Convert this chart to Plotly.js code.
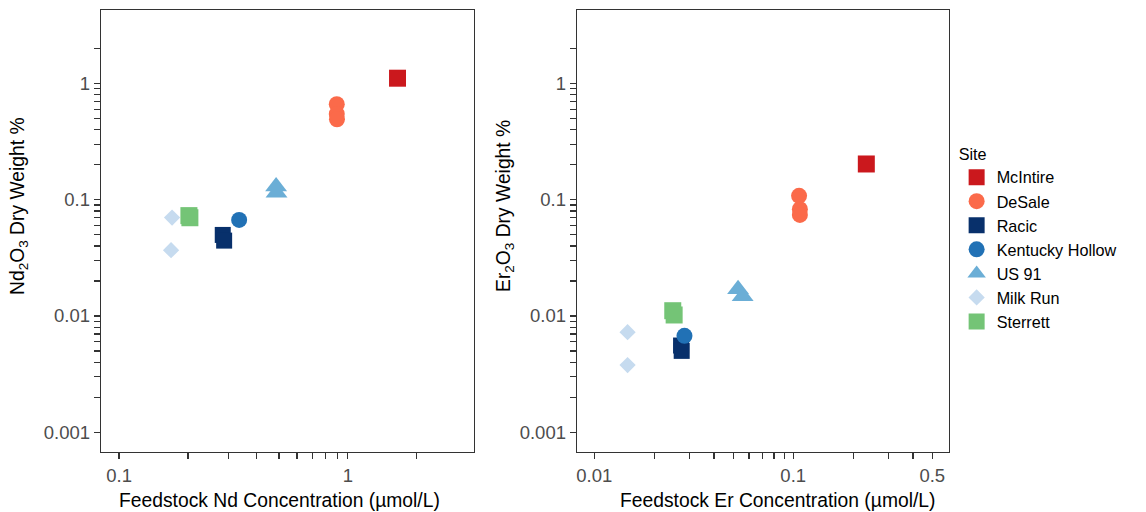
<!DOCTYPE html>
<html>
<head>
<meta charset="utf-8">
<script src="https://cdn.plot.ly/plotly-3.0.1.min.js"></script>
<style>html,body{margin:0;padding:0;background:#fff;}#chart{width:1146px;height:512px;}</style>
</head>
<body>
<div id="chart"></div>
<script>
// Sites (legend order)
const sites = ["McIntire", "DeSale", "Racic", "Kentucky Hollow", "US 91", "Milk Run", "Sterrett"];
const siteColors = ["#CB181D", "#FB6A4A", "#08306B", "#2171B5", "#6BAED6", "#C6DBEF", "#74C476"];
const siteSymbols = ["square", "circle", "square", "circle", "triangle-up", "diamond", "square"];
const siteSizes = [17, 16, 16, 16, 19, 12.5, 17];

// Left panel: Nd
const ndConc = {
  "McIntire": [1.65],
  "DeSale": [0.895, 0.895, 0.897],
  "Racic": [0.284, 0.288],
  "Kentucky Hollow": [0.335],
  "US 91": [0.486, 0.488],
  "Milk Run": [0.1705, 0.1688],
  "Sterrett": [0.202, 0.204]
};
const ndWeight = {
  "McIntire": [1.11],
  "DeSale": [0.663, 0.547, 0.492],
  "Racic": [0.0498, 0.0445],
  "Kentucky Hollow": [0.067],
  "US 91": [0.13, 0.115],
  "Milk Run": [0.0702, 0.0368],
  "Sterrett": [0.073, 0.070]
};

// Right panel: Er
const erConc = {
  "McIntire": [0.233],
  "DeSale": [0.107, 0.108, 0.108],
  "Racic": [0.0273, 0.0275],
  "Kentucky Hollow": [0.0284],
  "US 91": [0.0528, 0.0557],
  "Milk Run": [0.0147, 0.0147],
  "Sterrett": [0.0248, 0.0252]
};
const erWeight = {
  "McIntire": [0.203],
  "DeSale": [0.108, 0.0828, 0.074],
  "Racic": [0.00557, 0.00501],
  "Kentucky Hollow": [0.00675],
  "US 91": [0.017, 0.0148],
  "Milk Run": [0.00726, 0.00378],
  "Sterrett": [0.0111, 0.0102]
};

// Tick values (labelled ticks) and unlabelled minor ticks
const yTickVals = [0.001, 0.01, 0.1, 1];
const yTickText = ["0.001", "0.01", "0.1", "1"];
const yMinorVals = [0.002,0.003,0.004,0.005,0.006,0.007,0.008,0.009,
                    0.02,0.03,0.04,0.05,0.06,0.07,0.08,0.09,
                    0.2,0.3,0.4,0.5,0.6,0.7,0.8,0.9, 2];
const ndTickVals = [0.1, 1];
const ndTickText = ["0.1", "1"];
const ndMinorVals = [0.2,0.3,0.4,0.5,0.6,0.7,0.8,0.9,2];
const erTickVals = [0.01, 0.1, 0.5];
const erTickText = ["0.01", "0.1", "0.5"];
const erMinorVals = [0.02,0.03,0.04,0.05,0.06,0.07,0.08,0.09,0.2,0.3,0.4];

// Axis titles
const ndXTitle = "Feedstock Nd Concentration (µmol/L)";
const ndYTitle = "Nd<sub>2</sub>O<sub>3</sub> Dry Weight %";
const erXTitle = "Feedstock Er Concentration (µmol/L)";
const erYTitle = "Er<sub>2</sub>O<sub>3</sub> Dry Weight %";

const FONT = "Liberation Sans, Arial, sans-serif";
const traces = [];
sites.forEach((s, i) => {
  const marker = {color: siteColors[i], symbol: siteSymbols[i], size: siteSizes[i], line: {width: 0}};
  traces.push({type: "scatter", mode: "markers", name: s, legendgroup: s, showlegend: true,
    x: ndConc[s], y: ndWeight[s], xaxis: "x", yaxis: "y", marker: marker, hoverinfo: "x+y+name"});
});
sites.forEach((s, i) => {
  const marker = {color: siteColors[i], symbol: siteSymbols[i], size: siteSizes[i], line: {width: 0}};
  traces.push({type: "scatter", mode: "markers", name: s, legendgroup: s, showlegend: false,
    x: erConc[s], y: erWeight[s], xaxis: "x2", yaxis: "y2", marker: marker, hoverinfo: "x+y+name"});
});

const TICK_STYLE = {ticks: "outside", ticklen: 6, tickwidth: 1.2, tickcolor: "#333333"};
const axisCommon = Object.assign({
  type: "log", showgrid: false, zeroline: false,
  showline: true, mirror: true, linecolor: "#333333", linewidth: 1.3,
  tickfont: {family: FONT, size: 18.5, color: "#4D4D4D"}
}, TICK_STYLE);
const TITLE_FONT = {family: FONT, size: 19.3, color: "#000"};

const layout = {
  width: 1146, height: 512,
  paper_bgcolor: "#ffffff", plot_bgcolor: "#ffffff",
  margin: {l: 101, r: 197, t: 10, b: 60},
  font: {family: FONT, color: "#000000"},
  showlegend: true,
  xaxis: Object.assign({}, axisCommon, {
    domain: [0, 0.4399], range: [-1.079, 0.552],
    tickmode: "array", tickvals: ndTickVals, ticktext: ndTickText,
    minor: Object.assign({tickvals: ndMinorVals, showgrid: false}, TICK_STYLE),
    anchor: "y"
  }),
  yaxis: Object.assign({}, axisCommon, {
    domain: [0, 1], range: [-3.17, 0.632],
    tickmode: "array", tickvals: yTickVals, ticktext: yTickText,
    minor: Object.assign({tickvals: yMinorVals, showgrid: false}, TICK_STYLE),
    anchor: "x"
  }),
  xaxis2: Object.assign({}, axisCommon, {
    domain: [0.5613, 1], range: [-2.087, -0.217],
    tickmode: "array", tickvals: erTickVals, ticktext: erTickText,
    minor: Object.assign({tickvals: erMinorVals, showgrid: false}, TICK_STYLE),
    anchor: "y2"
  }),
  yaxis2: Object.assign({}, axisCommon, {
    domain: [0, 1], range: [-3.17, 0.632],
    tickmode: "array", tickvals: yTickVals, ticktext: yTickText,
    minor: Object.assign({tickvals: yMinorVals, showgrid: false}, TICK_STYLE),
    anchor: "x2"
  }),
  annotations: [
    {text: ndXTitle, xref: "paper", yref: "paper", x: 0.2105, y: -0.1086, xanchor: "center", yanchor: "middle", showarrow: false, font: TITLE_FONT},
    {text: erXTitle, xref: "paper", yref: "paper", x: 0.798, y: -0.1086, xanchor: "center", yanchor: "middle", showarrow: false, font: TITLE_FONT},
    {text: ndYTitle, xref: "paper", yref: "paper", x: -0.0967, y: 0.5566, xanchor: "center", yanchor: "middle", textangle: -90, showarrow: false, font: TITLE_FONT},
    {text: erYTitle, xref: "paper", yref: "paper", x: 0.4764, y: 0.5566, xanchor: "center", yanchor: "middle", textangle: -90, showarrow: false, font: TITLE_FONT}
  ],
  legend: {
    x: 1.009, xanchor: "left", y: 0.708, yanchor: "top",
    title: {text: "Site", font: {family: FONT, size: 16.2, color: "#000"}},
    font: {family: FONT, size: 16.2, color: "#000"},
    bgcolor: "rgba(0,0,0,0)", borderwidth: 0, tracegroupgap: 0
  }
};

Plotly.newPlot("chart", traces, layout, {displayModeBar: false, staticPlot: true});
</script>
</body>
</html>
